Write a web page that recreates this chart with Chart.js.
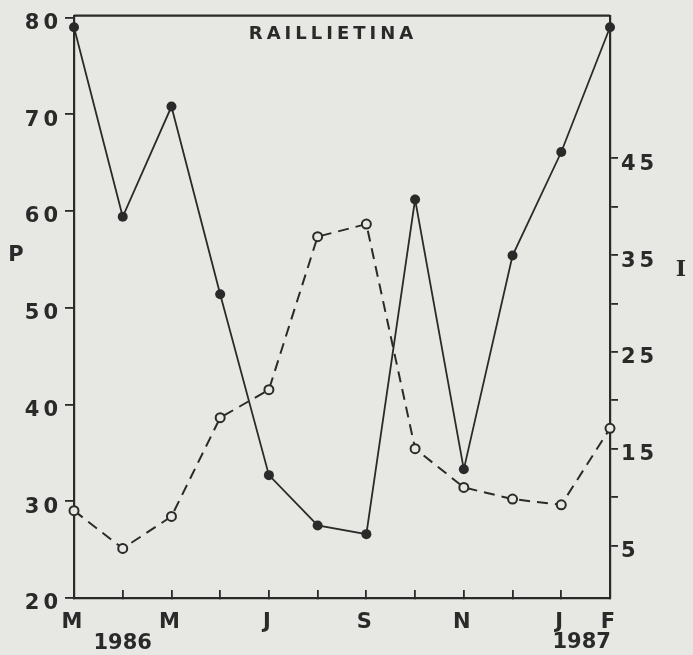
<!DOCTYPE html>
<html>
<head>
<meta charset="utf-8">
<script src="https://cdn.jsdelivr.net/npm/chart.js"></script>
<style>
  body { margin: 0; background: #e7e7e3; }
  canvas { display: block; }
</style>
</head>
<body>
<canvas id="chart" width="693" height="655"></canvas>
<script>
// monthly samples, March 1986 .. February 1987
const months = ["M", "", "M", "", "J", "", "S", "", "N", "", "J", "F"]
const prevalence = [79.0, 59.4, 70.8, 51.4, 32.7, 27.5, 26.6, 61.2, 33.3, 55.4, 66.1, 79.0]
const intensity = [8.6, 4.7, 8.0, 18.2, 21.1, 36.9, 38.2, 15.0, 11.0, 9.8, 9.2, 17.1]
const pTicks = [20, 30, 40, 50, 60, 70, 80]
const iTicks = [5, 10, 15, 20, 25, 30, 35, 40, 45]
const years = ["1986", "1987"]

const ink = "#2a2a2a"
const paper = "#e7e7e3"
const tickFont = { family: "DejaVu Sans", weight: "bold", size: 21 }

const extras = {
  id: "extras",
  beforeDraw(chart) {
    chart.ctx.letterSpacing = "4px"
  },
  afterDraw(chart) {
    const ctx = chart.ctx
    const area = chart.chartArea
    const x = chart.scales.x
    ctx.save()
    // top of the frame
    ctx.strokeStyle = ink
    ctx.lineWidth = 2.2
    ctx.beginPath()
    ctx.moveTo(area.left, area.top)
    ctx.lineTo(area.right, area.top)
    ctx.stroke()

    ctx.fillStyle = ink
    ctx.textAlign = "center"
    ctx.textBaseline = "middle"
    ctx.letterSpacing = "4px"
    ctx.font = "bold 18px 'DejaVu Sans'"
    ctx.fillText("RAILLIETINA", 333, 34)

    ctx.letterSpacing = "0px"
    ctx.font = "bold 21px 'DejaVu Sans'"
    ctx.fillText(years[0], x.getPixelForValue(1), 644)
    ctx.fillText(years[1], (x.getPixelForValue(10) + x.getPixelForValue(11)) / 2 - 4, 643)

    ctx.fillText("P", 16, 256)
    ctx.font = "bold 22px 'DejaVu Serif'"
    ctx.fillText("I", 681, 270)
    ctx.restore()
  }
}

new Chart(document.getElementById("chart"), {
  type: "line",
  data: {
    labels: months,
    datasets: [
      {
        label: "I",
        data: intensity,
        yAxisID: "y2",
        borderColor: ink,
        borderWidth: 2,
        borderDash: [11, 7],
        pointRadius: 4.5,
        pointBorderWidth: 2,
        pointBorderColor: ink,
        pointBackgroundColor: paper,
        tension: 0,
        clip: false,
      },
      {
        label: "P",
        data: prevalence,
        yAxisID: "y",
        borderColor: ink,
        borderWidth: 1.8,
        pointRadius: 5,
        pointBorderWidth: 0,
        pointBackgroundColor: ink,
        tension: 0,
        clip: false,
      },
    ],
  },
  options: {
    responsive: false,
    animation: false,
    layout: { padding: { top: 10 } },
    plugins: {
      legend: { display: false },
      tooltip: { enabled: false },
    },
    scales: {
      x: {
        offset: false,
        afterFit: (s) => { s.height = 57 },
        border: { display: true, color: ink, width: 2.2 },
        grid: { drawOnChartArea: false, color: ink, lineWidth: 1.8, tickLength: -8 },
        ticks: { color: ink, font: tickFont, padding: 20, maxRotation: 0, autoSkip: false },
      },
      y: {
        position: "left",
        min: 20,
        max: 80.2,
        afterBuildTicks: (s) => { s.ticks = pTicks.map((v) => ({ value: v })) },
        afterFit: (s) => { s.width = 74 },
        border: { display: true, color: ink, width: 2.2 },
        grid: { drawOnChartArea: false, color: ink, lineWidth: 1.8, tickLength: 9 },
        ticks: { color: ink, font: tickFont, padding: 3, labelOffset: 6 },
      },
      y2: {
        position: "right",
        min: -0.42,
        max: 59.73,
        afterBuildTicks: (s) => { s.ticks = iTicks.map((v) => ({ value: v })) },
        afterFit: (s) => { s.width = 83 },
        border: { display: true, color: ink, width: 2.2 },
        grid: { drawOnChartArea: false, color: ink, lineWidth: 1.8, tickLength: 8 },
        ticks: {
          color: ink,
          font: tickFont,
          padding: 3,
          labelOffset: 6,
          callback: (v) => (v % 10 === 5 ? String(v) : ""),
        },
      },
    },
  },
  plugins: [extras],
})
</script>
</body>
</html>
